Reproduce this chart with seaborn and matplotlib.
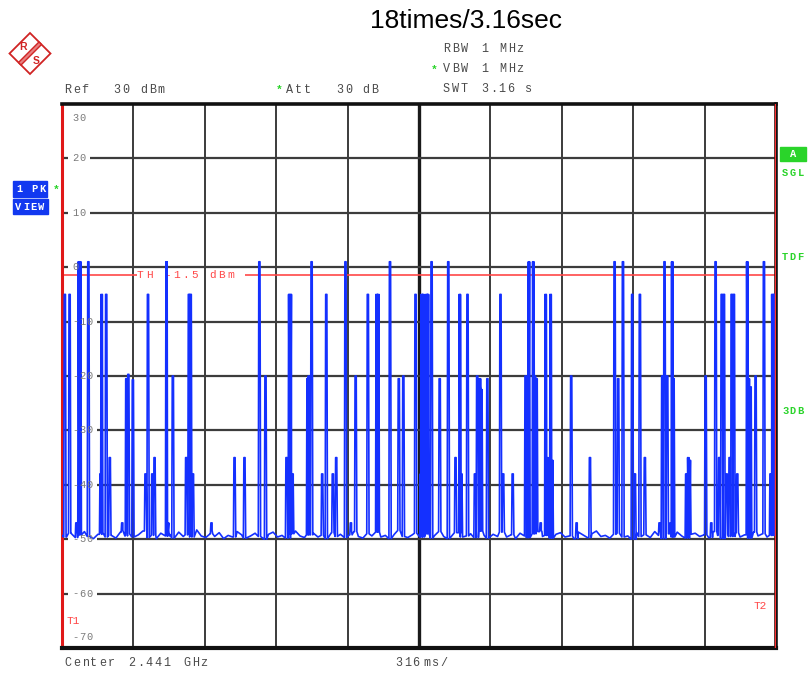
import numpy as np
import pandas as pd
import matplotlib
matplotlib.use("Agg")
import matplotlib.pyplot as plt
from matplotlib.patches import Rectangle, Polygon
import seaborn as sns

# ---------------- data ----------------
SWEEP_S = 3.16
Y_TICKS = [30, 20, 10, 0, -10, -20, -30, -40, -50, -60, -70]
THRESHOLD_DBM = -1.5

spike_t = [0.010, 0.031, 0.061, 0.072, 0.078, 0.114, 0.168, 0.173, 0.193, 0.209,
           0.264, 0.282, 0.291, 0.311, 0.367, 0.378, 0.397, 0.407, 0.460, 0.467,
           0.488, 0.547, 0.559, 0.567, 0.577, 0.659, 0.761, 0.805, 0.871, 0.898,
           0.991, 1.003, 1.010, 1.018, 1.084, 1.090, 1.102, 1.149, 1.167, 1.196,
           1.211, 1.252, 1.276, 1.297, 1.351, 1.390, 1.397, 1.449, 1.488, 1.508,
           1.562, 1.586, 1.589, 1.596, 1.611, 1.617, 1.633, 1.669, 1.707, 1.739,
           1.758, 1.765, 1.792, 1.825, 1.835, 1.847, 1.854, 1.880, 1.938, 1.950,
           1.992, 2.049, 2.057, 2.064, 2.083, 2.090, 2.098, 2.116, 2.138, 2.145,
           2.160, 2.167, 2.251, 2.275, 2.334, 2.443, 2.459, 2.480, 2.521, 2.533,
           2.555, 2.577, 2.642, 2.654, 2.664, 2.676, 2.691, 2.698, 2.704, 2.760,
           2.769, 2.776, 2.846, 2.871, 2.890, 2.906, 2.917, 2.927, 2.939, 2.952,
           2.961, 2.971, 2.986, 3.030, 3.037, 3.045, 3.067, 3.104, 3.133, 3.141,
           3.148, 3.155]
spike_db = [-5, -5, -47, 1, 1, 1, -38, -5, -5, -35,
            -47, -20.5, -19.7, -20.7, -38, -5, -38, -35, 1, -47,
            -20, -35, -5, -5, -38, -47, -35, -35, 1, -20,
            -35, -5, -5, -38, -20.5, -20, 1, -38, -5, -38,
            -35, 1, -47, -20, -5, -5, -5, 1, -20.5, -20,
            -5, -38, -5, -5, -5, -5, 1, -20.5, 1, -35,
            -5, -38, -5, -38, -20, -20.5, -22.5, -20.5, -5, -38,
            -38, -20, -20.5, 1, 1, -20, -20.5, -47, -5, -35,
            -5, -35.5, -20, -47, -35, 1, -20.5, 1, -5, -38,
            -5, -35, -47, -20, 1, -20, -47, 1, -20.5, -38,
            -35, -35.5, -20, -47, 1, -35, -5, -5, -38, -35,
            -5, -5, -38, 1, -20.5, -22, -20, 1, -38, -5,
            -5, -5]

floor_db = [
    -49.3, -49.6, -48.9, -49.7, -49.2, -48.6, -49.5, -49.9, -49.1, -48.8, -49.6, -49.3, -49.8, -48.7, -49.4, -49.0,
    -49.6, -49.2, -48.5, -49.7, -49.3, -49.9, -48.9, -49.4, -49.1, -49.8, -48.7, -49.5, -49.2, -49.6, -48.3, -49.4,
    -49.7, -49.0, -49.5, -48.8, -49.9, -49.3, -49.6, -48.6, -49.2, -49.8, -49.4, -48.9, -49.5, -50.0, -49.1, -48.7,
    -49.6, -49.3, -49.8, -49.0, -48.5, -49.4, -49.7, -49.2, -48.9, -49.6, -49.3, -49.9, -48.8, -49.5, -49.1, -49.7,
    -49.2, -48.6, -49.5, -49.8, -49.0, -49.4, -48.7, -49.6, -49.3, -49.9, -49.1, -48.4, -49.5, -49.7, -49.2, -48.9,
    -49.6, -49.0, -49.8, -49.3, -48.6, -49.5, -49.9, -49.2, -48.8, -49.6, -49.4, -49.0, -49.7, -48.5, -49.3, -49.8,
    -49.1, -49.5, -48.7, -49.6, -49.2, -49.9, -48.9, -49.4, -49.7, -49.0, -48.6, -49.5, -49.3, -49.8, -49.1, -48.8,
    -49.6, -49.4, -49.9, -48.7, -49.2, -49.7, -49.0, -48.5, -49.5, -49.3, -49.8, -49.1, -48.9, -49.6, -49.4, -50.0,
    -48.8, -49.5, -49.2, -49.7, -48.6, -49.3, -49.9, -49.0, -49.6, -48.7, -49.4, -49.8, -49.1, -48.9, -49.5, -49.2,
    -49.7, -48.6, -49.3, -49.9, -49.0, -49.5, -48.8, -49.6, -49.2, -49.8, -48.7, -49.4, -49.0, -49.6, -49.3, -49.1,
]

# ---------------- build the trace ----------------
W_PX = 714.0
dp = SWEEP_S / W_PX          # one screen pixel in seconds
floor_t = np.linspace(0, SWEEP_S, len(floor_db))
floor_v = np.array(floor_db)

rows = []
keep = np.ones(len(floor_t), bool)
for t, pk in zip(spike_t, spike_db):
    keep &= ~((floor_t > t - 0.6 * dp) & (floor_t < t + 1.9 * dp))
for t, v in zip(floor_t[keep], floor_v[keep]):
    rows.append((t, v, 0))
for t, pk in zip(spike_t, spike_db):
    base = floor_v[np.argmin(np.abs(floor_t - t))]
    rows += [(t - 0.5 * dp, base, 0), (t, pk, 1), (t + 1.2 * dp, pk, 2),
             (t + 1.2 * dp, pk - 1.4, 3), (t + 1.8 * dp, base, 4)]
trace = pd.DataFrame(rows, columns=["t", "dbm", "k"])
trace = trace.sort_values(["t", "k"], kind="mergesort").reset_index(drop=True)

# ---------------- figure ----------------
sns.set_style("white")
plt.rcParams["font.family"] = ["Liberation Mono", "DejaVu Sans"]

W, H = 809, 673
fig = plt.figure(figsize=(W / 100, H / 100), dpi=100)
fig.patch.set_facecolor("white")
L, R, T, B = 62, 776, 104, 648
ax = fig.add_axes([L / W, (H - B) / H, (R - L) / W, (B - T) / H])
ax.set_xlim(0, SWEEP_S)
ax.set_ylim(-70, 30)
ax.set_xticks([])
ax.set_yticks([])

def px2t(px):
    return (px - L) / W_PX * SWEEP_S

TRACE_BLUE = "#1430ff"
LABEL_GRAY = "#7a7a7a"
TEXT_GRAY = "#4a4a4a"
RED = "#ff4848"
GREEN = "#2ad42a"

# vertical grid
for i in range(1, 10):
    ax.axvline(SWEEP_S * i / 10, color="#1a1a1a", lw=2.4 if i == 5 else 1.2, zorder=1)

# horizontal grid with gaps for labels
tick_pitch = 7.3
for v in Y_TICKS[1:-1]:
    s = str(v)
    end_px = 72 + len(s) * tick_pitch + 3
    ax.hlines(v, 0, px2t(68), color="#3c3c3c", lw=1.6, zorder=1)
    ax.hlines(v, px2t(end_px), SWEEP_S, color="#3c3c3c", lw=1.6, zorder=1)

def mono_ax(x_px, y_val, s, pitch, size, color, weight="normal", z=3):
    for i, ch in enumerate(s):
        if ch.strip():
            ax.text(px2t(x_px + i * pitch), y_val, ch, fontsize=size, color=color,
                    ha="left", va="center", fontweight=weight, zorder=z)

for v in Y_TICKS:
    yv = v
    if v == 30:
        yv = 27.4
    elif v == -70:
        yv = -68.0
    mono_ax(72, yv, str(v), tick_pitch, 7.5, LABEL_GRAY, z=6)

# threshold line
ax.hlines(THRESHOLD_DBM, 0, px2t(137), color=RED, lw=1.2, zorder=2)
ax.hlines(THRESHOLD_DBM, px2t(245), SWEEP_S, color=RED, lw=1.2, zorder=2)
mono_ax(137, THRESHOLD_DBM, "TH -1.5 dBm", 9.0, 8, RED)

# trace
sns.lineplot(data=trace, x="t", y="dbm", sort=False, estimator=None,
             color=TRACE_BLUE, lw=1.2, ax=ax, zorder=4)
ax.set_xlabel("")
ax.set_ylabel("")

# T1 / T2 markers
ax.axvline(px2t(775), color="#ff3030", lw=1.0, zorder=5)
ax.text(px2t(67), 30 - (621 - T) / 5.44, "T1", fontsize=8, color=RED, ha="left", va="center")
ax.text(px2t(754), 30 - (606 - T) / 5.44, "T2", fontsize=8, color=RED, ha="left", va="center")

for side, sp in ax.spines.items():
    sp.set_visible(True)
ax.spines["top"].set_color("#111111"); ax.spines["top"].set_linewidth(2.6)
ax.spines["bottom"].set_color("#111111"); ax.spines["bottom"].set_linewidth(3.0)
ax.spines["right"].set_color("#111111"); ax.spines["right"].set_linewidth(2.6)
ax.spines["left"].set_color("#e01818"); ax.spines["left"].set_linewidth(2.2)

# ---------------- overlay in pixel coordinates ----------------
ov = fig.add_axes([0, 0, 1, 1])
ov.set_xlim(0, W)
ov.set_ylim(H, 0)
ov.axis("off")
ov.patch.set_alpha(0)

def mono_px(x, y, s, pitch, size, color, weight="normal"):
    for i, ch in enumerate(s):
        if ch.strip():
            ov.text(x + i * pitch, y, ch, fontsize=size, color=color, ha="left",
                    va="center", fontweight=weight)

ov.text(466, 21, "18times/3.16sec", fontsize=19, family="Liberation Sans",
        ha="center", va="center", color="black")

HP = 8.8
for txt, x, y in [("Ref", 64, 90), ("30", 113, 90), ("dBm", 140, 90),
                  ("Att", 286, 90), ("30", 336, 90), ("dB", 362, 90),
                  ("RBW", 443, 49), ("1", 481, 49), ("MHz", 499, 49),
                  ("VBW", 443, 69), ("1", 481, 69), ("MHz", 499, 69),
                  ("SWT", 443, 89), ("3.16", 481, 89), ("s", 525, 89),
                  ("Center", 64, 663), ("2.441", 128, 663), ("GHz", 183, 663),
                  ("316", 395, 663), ("ms/", 423, 663)]:
    mono_px(x, y, txt, HP, 8.5, TEXT_GRAY)
for x, y in [(276, 90), (431, 70), (53, 190)]:
    ov.text(x, y, "*", fontsize=8, color=GREEN, ha="left", va="center", fontweight="bold")

# left blue boxes
BOX_BLUE = "#1238f0"
ov.add_patch(Rectangle((13, 181), 34, 16, color=BOX_BLUE))
ov.add_patch(Rectangle((13, 198.5), 35, 15, color=BOX_BLUE))
mono_px(16, 189.5, "1 PK", 7.8, 7.5, "white", "bold")
mono_px(15, 206.5, "VIEW", 7.8, 7.5, "white", "bold")

# right status
ov.add_patch(Rectangle((780, 146.5), 26, 14.5, color=GREEN))
ov.text(793, 154, "A", fontsize=7.5, color="white", ha="center", va="center", fontweight="bold")
for txt, y in [("SGL", 172.5), ("TDF", 257), ("3DB", 411)]:
    mono_px(782, y, txt, 7.8, 7.5, GREEN, "bold")

# R&S logo
LOGO = "#d02424"
cx, cy, r = 30, 53.5, 20.5
ov.add_patch(Polygon([(cx, cy - r), (cx + r, cy), (cx, cy + r), (cx - r, cy)],
                     closed=True, fill=False, edgecolor=LOGO, lw=1.3))
p1 = np.array([cx + r / 2, cy - r / 2])
p2 = np.array([cx - r / 2, cy + r / 2])
n = np.array([1, 1]) / np.sqrt(2) * 1.8
band = [p1 - n, p1 + n, p2 + n, p2 - n]
ov.add_patch(Polygon(band, closed=True, facecolor="#e88080", edgecolor=LOGO, lw=1.0))
ov.text(23.5, 46.5, "R", fontsize=7.5, color=LOGO, family="Liberation Sans",
        ha="center", va="center", fontweight="bold")
ov.text(36.5, 60.5, "S", fontsize=7.5, color=LOGO, family="Liberation Sans",
        ha="center", va="center", fontweight="bold")

fig.savefig("out.png", dpi=100, facecolor="white")
